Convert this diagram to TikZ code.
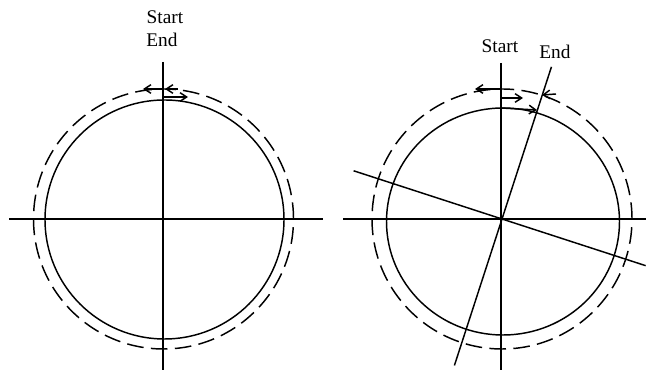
\documentclass[tikz,border=0pt]{standalone}
\usepackage{fontspec}
\setmainfont{Liberation Serif}
\usetikzlibrary{arrows.meta}

\begin{document}
\begin{tikzpicture}[x=0.75pt, y=0.75pt, line width=1.1pt,
  rim/.style={black},
  trail/.style={dash pattern=on 12.5pt off 5.5pt},
  e/.style={-{Straight Barb[length=5pt, width=6.5pt]}},
  lbl/.style={font=\fontsize{14.5}{16}\selectfont, inner sep=0pt}]
\useasboundingbox (0,0) rectangle (646,370);
% left: start and end coincide
\coordinate (c1) at (164,151);
\coordinate (w1) at (9,151);
\coordinate (o1) at (323,151);
\coordinate (n1) at (163,308);
\coordinate (s1) at (163,0);
\draw (w1) -- (o1);
\draw (n1) -- (s1);
\draw[rim] (164.5,150.5) circle[radius=119.5];
\draw[trail] (163.5,151) circle[radius=130];
\node[lbl] (start1) at (165,353) {Start};
\node[lbl] (end1) at (162,330) {End};
\coordinate (p1) at (163,281);
\coordinate (q1) at (163,273);
\draw[e] (p1) -- ++(-20,0);
\draw[e] (p1) ++(15,0) -- ++(-13,0);
\draw[e] (q1) -- ++(25,0);
% right: end line turned away from start
\coordinate (c2) at (502,151);
\coordinate (w2) at (343,151);
\coordinate (o2) at (646,151);
\coordinate (n2) at (501,307);
\coordinate (s2) at (501,0);
\draw (w2) -- (o2);
\draw (n2) -- (s2);
\draw ([shift={(72:160)}]c2) -- ([shift={(252:154)}]c2);
\draw ([shift={(162:156)}]c2) -- ([shift={(-18:151)}]c2);
\draw[rim] (503,148.5) ellipse[x radius=116.5, y radius=113.5];
\draw[trail] (c2) circle[radius=130];
\node[lbl] (start2) at (500,324) {Start};
\node[lbl] (end2) at (555,318) {End};
\coordinate (p2) at (501,281);
\coordinate (q2) at (501,272);
\coordinate (r2) at (501,262);
\coordinate (t2) at (542,275);
\draw[e] (p2) -- ++(-26,0);
\draw[e] (q2) -- ++(22,0);
\draw[e] (r2) -- (537,260);
\draw[e] (t2) ++(14,1) -- (t2);
\end{tikzpicture}
\end{document}
